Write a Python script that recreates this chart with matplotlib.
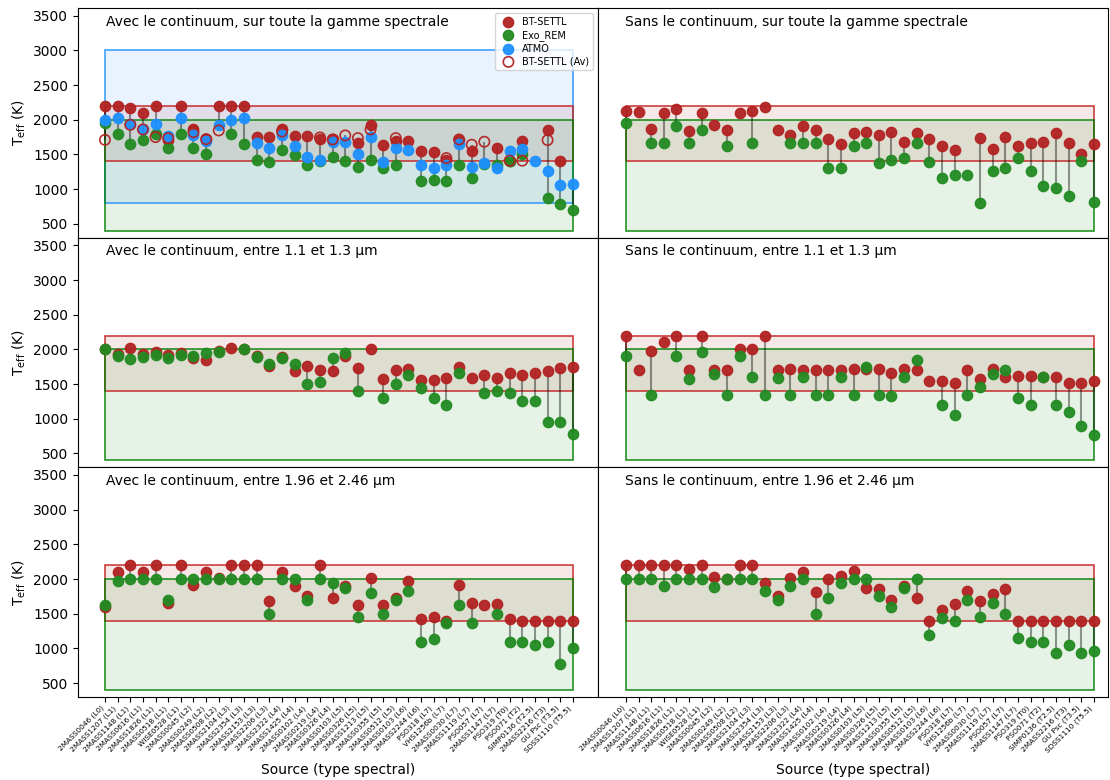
import numpy as np
import matplotlib

matplotlib.use("Agg")
import matplotlib.pyplot as plt
from matplotlib.patches import Rectangle

nan = np.nan

# --------------------------------------------------
# DATA
# --------------------------------------------------

sources = [
    "2MASS0046 (L0)", "2MASS1207 (L1)", "2MASS1148 (L1)", "2MASS0616 (L1)",
    "2MASS1826 (L1)", "2MASS0518 (L1)", "WISE0528 (L1)", "2MASS0045 (L2)",
    "2MASS0249 (L2)", "2MASS0508 (L2)", "2MASS2104 (L3)", "2MASS2354 (L3)",
    "2MASS2153 (L3)", "2MASS2206 (L3)", "2MASS2322 (L4)", "2MASS1425 (L4)",
    "2MASS0102 (L4)", "2MASS0219 (L4)", "2MASS0326 (L4)", "2MASS0103 (L5)",
    "2MASS0326 (L5)", "2MASS1213 (L5)", "2MASS0355 (L5)", "2MASS0512 (L5)",
    "2MASS0103 (L6)", "2MASS2244 (L6)", "PSO318 (L7)", "VHS1256b (L7)",
    "2MASS0030 (L7)", "2MASS1119 (L7)", "PSO057 (L7)", "2MASS1147 (L7)",
    "PSO319 (T0)", "PSO071 (T2)", "SIMP0136 (T2.5)", "2MASS2216 (T3)",
    "GU Psc (T3.5)", "SDSS1110 (T5.5)",
]

# valid ranges of each grid of models
bt_settl_range = (1400, 2200)
exo_rem_range = (400, 2000)
atmo_range = (800, 3000)

# avec continuum, toute la gamme
full_cont_bt = [2200, 2200, 2170, 2100, 2200, 1715, 2200, 1860, 1726, 2200, 2200, 2200, 1750, 1750,
                1860, 1764, 1764, 1716, 1726, nan, 1663, 1927, 1640, 1692, 1692, 1549, 1539, 1424,
                1707, 1549, nan, 1592, 1405, 1697, nan, 1850, 1410, nan]
full_cont_exo = [1950, 1800, 1650, 1710, 1790, 1587, 1800, 1587, 1505, nan, 1800, 1650, 1420, 1390,
                 1560, 1490, 1350, 1400, 1462, 1400, 1323, 1424, 1309, 1347, nan, 1113, 1127, 1113,
                 1347, 1156, 1357, 1350, 1410, 1505, nan, 868, 787, 706]
full_cont_atmo = [2000, 2020, 1935, 1860, 1940, 1770, 2020, 1774, 1700, 1930, 2000, 2020, 1668, 1596,
                  1774, 1625, 1462, 1424, 1678, 1680, 1500, 1750, 1390, 1592, 1563, 1347, 1309, 1347,
                  1649, 1323, 1376, 1309, 1553, 1577, 1410, 1256, 1055, 1070]
full_cont_bt_av = [1710, nan, 1927, 1860, 1750, 1735, nan, 1820, 1720, 1846, nan, nan, nan, nan,
                   1830, nan, nan, 1745, 1716, 1774, 1735, 1860, nan, 1735, nan, nan, nan, 1448,
                   1716, 1640, 1683, nan, 1410, 1410, nan, 1707, nan, nan]

# sans continuum, toute la gamme
full_nocont_bt = [2119, 2109, 1865, 2090, 2157, 1836, 2104, 1922, 1850, 2104, 2133, 2190, 1855, 1774,
                  1908, 1850, 1726, 1644, 1812, 1826, 1783, 1826, 1673, 1812, 1726, 1616, 1563, nan,
                  1740, 1573, 1755, 1616, 1659, 1673, 1812, 1659, 1510, 1644]
full_nocont_exo = [1951, nan, 1659, 1659, 1908, 1659, 1850, nan, 1616, nan, 1659, nan, nan, 1659,
                   1659, 1659, 1309, 1309, 1616, 1659, 1376, 1424, 1453, 1663, 1395, 1156, 1209, 1209,
                   806, 1266, 1309, 1453, 1256, 1046, 1017, 907, 1410, 820]

# avec continuum, 1.1 - 1.3 um
j_cont_bt = [2000, 1930, 2018, 1937, 1960, 1922, 1951, 1870, 1846, 1970, 2020, 2000, 1903, 1759,
             1884, 1687, 1764, 1707, 1692, 1903, 1735, 2000, 1577, 1707, 1721, 1553, 1553, 1592,
             1750, 1582, 1625, 1592, 1664, 1625, 1654, 1692, 1731, 1750]
j_cont_exo = [2000, 1900, 1865, 1893, 1913, 1879, 1922, 1900, 1946, 1960, nan, 2000, 1889, 1783,
              1870, 1793, 1496, 1530, 1874, 1941, 1400, nan, 1300, 1496, 1625, 1448, 1300, 1204,
              1654, nan, 1371, 1400, 1371, 1252, 1252, 955, 955, 787]

# sans continuum, 1.1 - 1.3 um
j_nocont_bt = [2200, 1700, 1980, 2100, 2200, 1700, 2200, 1700, 1700, 2000, 2000, 2200, 1700, 1720,
               1700, 1710, 1700, 1700, 1720, 1720, 1720, 1660, 1720, 1700, 1540, 1540, 1520, 1700,
               1570, 1720, 1600, 1620, 1620, 1600, 1600, 1520, 1520, 1550]
j_nocont_exo = [1900, nan, 1340, nan, 1900, 1580, 1960, 1650, 1340, 1900, 1600, 1340, 1590, 1340,
                1600, 1340, 1340, 1600, 1340, 1750, 1340, 1330, 1600, 1850, nan, 1200, 1050, 1340,
                1460, 1650, 1700, 1300, 1200, 1600, 1200, 1100, 900, 770]

# avec continuum, 1.96 - 2.46 um
k_cont_bt = [1600, 2100, 2200, 2100, 2200, 1650, 2200, 1920, 2100, 2010, 2200, 2200, 2200, 1680,
             2100, 1900, 1750, 2200, 1730, 1900, 1620, 2020, 1620, 1720, 1970, 1420, 1450, 1400,
             1920, 1650, 1620, 1640, 1420, 1400, 1400, 1400, 1400, 1400]
k_cont_exo = [1620, 1970, 2000, 2000, 2000, 1700, 2000, 2000, 2000, 2000, 2000, 2000, 2000, 1500,
              2000, 2000, 1700, 2000, 1950, 1870, 1460, 1800, 1500, 1700, 1830, 1100, 1130, 1370,
              1620, 1360, nan, 1500, 1100, 1100, 1050, 1100, 780, 1000]

# sans continuum, 1.96 - 2.46 um
k_nocont_bt = [2200, 2200, 2200, 2200, 2200, 2150, 2200, 2030, 2000, 2200, 2200, 1950, 1760, 2020,
               2100, 1820, 2000, 2050, 2120, 1870, 1850, 1700, 1900, 1720, 1400, 1560, 1640, 1830,
               1680, 1790, 1850, 1400, 1400, 1400, 1400, 1400, 1400, 1400]
k_nocont_exo = [2000, 2000, 2000, 1900, 2000, 2000, 2000, 1880, 2000, 2000, 2000, 1830, 1700, 1900,
                2000, 1500, 1720, 1940, 2000, 2000, 1760, 1600, 1870, 2000, 1200, 1440, 1400, 1700,
                1450, 1650, 1500, 1150, 1100, 1100, 940, 1050, 940, 970]

titles = [
    ["Avec le continuum, sur toute la gamme spectrale", "Sans le continuum, sur toute la gamme spectrale"],
    ["Avec le continuum, entre 1.1 et 1.3 µm", "Sans le continuum, entre 1.1 et 1.3 µm"],
    ["Avec le continuum, entre 1.96 et 2.46 µm", "Sans le continuum, entre 1.96 et 2.46 µm"],
]

panels = [
    [dict(bt=full_cont_bt, exo=full_cont_exo, atmo=full_cont_atmo, av=full_cont_bt_av),
     dict(bt=full_nocont_bt, exo=full_nocont_exo)],
    [dict(bt=j_cont_bt, exo=j_cont_exo), dict(bt=j_nocont_bt, exo=j_nocont_exo)],
    [dict(bt=k_cont_bt, exo=k_cont_exo), dict(bt=k_nocont_bt, exo=k_nocont_exo)],
]

C_BT = "firebrick"
C_EXO = "forestgreen"
C_ATMO = "dodgerblue"

# --------------------------------------------------
# PLOT
# --------------------------------------------------

fig, axes = plt.subplots(
    3, 2, figsize=(11.1, 7.8), dpi=100,
    gridspec_kw=dict(width_ratios=[520, 510], hspace=0, wspace=0),
)
fig.subplots_adjust(left=0.0703, right=0.998, top=0.9897, bottom=0.1064)

x = np.arange(len(sources))


def add_range(ax, rng, color, edge):
    lo, hi = rng
    ax.add_patch(Rectangle((x[0], lo), x[-1] - x[0], hi - lo,
                           facecolor=color, alpha=0.1, edgecolor="none", zorder=0))
    ax.add_patch(Rectangle((x[0], lo), x[-1] - x[0], hi - lo,
                           facecolor="none", edgecolor=edge, lw=1.2, alpha=0.85, zorder=1))


for r in range(3):
    for c in range(2):
        ax = axes[r, c]
        d = panels[r][c]
        series = [np.array(d[k], dtype=float) for k in ("bt", "exo", "atmo", "av") if k in d]

        if "atmo" in d:
            add_range(ax, atmo_range, C_ATMO, C_ATMO)
        add_range(ax, bt_settl_range, "firebrick", "#c41e1e")
        add_range(ax, exo_rem_range, "green", "green")

        # line from the lowest to the highest estimate of each source
        stack = np.vstack(series)
        lo = np.nanmin(stack, axis=0)
        hi = np.nanmax(stack, axis=0)
        ax.vlines(x, lo, hi, color="k", alpha=0.4, lw=1.5, zorder=2)

        ax.scatter(x, d["bt"], s=55, color=C_BT, alpha=0.95, zorder=3, label="BT-SETTL")
        ax.scatter(x, d["exo"], s=55, color=C_EXO, alpha=0.95, zorder=4, label="Exo_REM")
        if "atmo" in d:
            ax.scatter(x, d["atmo"], s=55, color=C_ATMO, alpha=0.95, zorder=5, label="ATMO")
            ax.scatter(x, d["av"], s=55, facecolors="none", edgecolors=C_BT, lw=1.2,
                       alpha=0.95, zorder=6, label="BT-SETTL (Av)")
            ax.legend(loc="upper right", fontsize=7, handletextpad=0.4, borderpad=0.4,
                      labelspacing=0.3)

        ax.text(0.054, 0.94, titles[r][c], transform=ax.transAxes, fontsize=10,
                ha="left", va="center")

        ax.set_ylim(300, 3610)
        ax.set_yticks([500, 1000, 1500, 2000, 2500, 3000, 3500])
        if c == 0:
            ax.set_xlim(-2.13, 38.98)
            ax.set_ylabel(r"T$_{\rm eff}$ (K)", fontsize=10)
        else:
            ax.set_xlim(-2.21, 38.1)
            ax.tick_params(axis="y", left=False, labelleft=False)

        ax.set_xticks(x)
        if r == 2:
            ax.set_xticklabels(sources, rotation=45, ha="right", fontsize=5.3)
            ax.tick_params(axis="x", pad=2)
            ax.set_xlabel("Source (type spectral)", fontsize=10, labelpad=7)
        else:
            ax.tick_params(axis="x", bottom=False, labelbottom=False)

plt.savefig("out.png", dpi=100)
plt.close()
